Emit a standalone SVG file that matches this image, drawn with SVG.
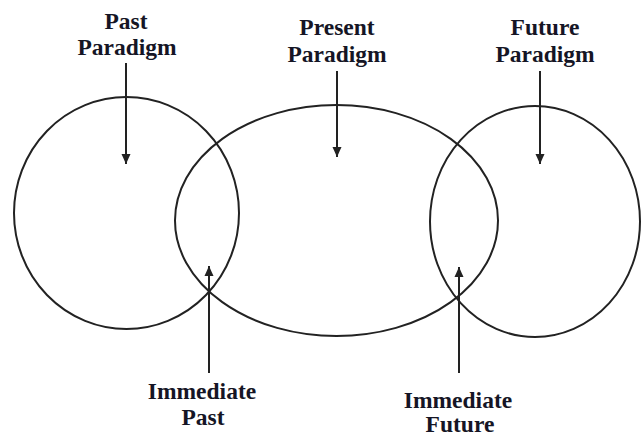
<svg xmlns="http://www.w3.org/2000/svg" width="643" height="436" viewBox="0 0 643 436">
<style>
.shape{fill:none;stroke:#222;stroke-width:2}
.lbl{font-family:"Liberation Serif","Times New Roman",serif;font-weight:bold;font-size:23.5px;fill:#151525;text-anchor:middle}
.conn{stroke:#222;stroke-width:2;fill:none;marker-end:url(#ah)}
</style>
<defs>
<marker id="ah" markerUnits="userSpaceOnUse" markerWidth="10" markerHeight="12" refX="10" refY="5" orient="auto" viewBox="0 0 10 10">
<path d="M0,0.5 L10,5 L0,9.5 Z" fill="#222"/>
</marker>
</defs>
<rect width="643" height="436" fill="#fff"/>
<g id="past-paradigm">
<ellipse class="shape" cx="126.5" cy="213" rx="112.5" ry="116"/>
<text class="lbl" x="126" y="29">Past</text>
<text class="lbl" x="127" y="55">Paradigm</text>
</g>
<g id="present-paradigm">
<ellipse class="shape" cx="336.5" cy="220.5" rx="161.5" ry="115.5"/>
<text class="lbl" x="337" y="35">Present</text>
<text class="lbl" x="337" y="62">Paradigm</text>
</g>
<g id="future-paradigm">
<ellipse class="shape" cx="535" cy="221.5" rx="105" ry="115.5"/>
<text class="lbl" x="545" y="35">Future</text>
<text class="lbl" x="545" y="62">Paradigm</text>
</g>
<g id="immediate-past">
<text class="lbl" x="202" y="399">Immediate</text>
<text class="lbl" x="203" y="425">Past</text>
</g>
<g id="immediate-future">
<text class="lbl" x="458" y="408">Immediate</text>
<text class="lbl" x="460" y="432">Future</text>
</g>
<g id="connectors">
<line class="conn" x1="126" y1="63" x2="126" y2="164"/>
<line class="conn" x1="337" y1="71" x2="337" y2="157"/>
<line class="conn" x1="540" y1="71" x2="540" y2="164"/>
<line class="conn" x1="209" y1="373" x2="209" y2="266"/>
<line class="conn" x1="459" y1="373" x2="459" y2="267"/>
</g>
</svg>
